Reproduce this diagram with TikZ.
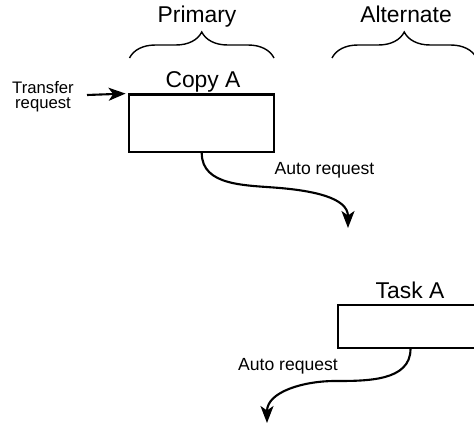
\documentclass[tikz,border=0pt]{standalone}
\usepackage{fontspec}
\setmainfont{Liberation Sans}
\usepackage{tikz}
\usetikzlibrary{arrows.meta,positioning,decorations.pathreplacing}
\tikzset{
  procbox/.style={rectangle, draw=black, line width=1.15pt, fill=white,
                  minimum width=2.9cm, inner sep=0pt},
  hdrlabel/.style={font=\fontsize{13}{15}\selectfont, anchor=base, inner sep=0pt},
  smalllabel/.style={font=\fontsize{10}{12}\selectfont, anchor=base, inner sep=0pt},
  flowarr/.style={-{Stealth[length=3.4mm, width=2.6mm, inset=0.9mm]}, line width=1.2pt},
  bracegrp/.style={decorate, decoration={brace, amplitude=0.52cm}, line width=0.8pt},
}
\begin{document}
\begin{tikzpicture}[x=0.02cm, y=-0.02cm]
  \useasboundingbox (0,0) rectangle (474,426);
  \clip (0,0) rectangle (474,426);
  % group headings
  \node[hdrlabel] (prim) at (197,23) {Primary};
  \node[hdrlabel] (alt)  at (406,23) {Alternate};
  \coordinate (primL) at (129.5,58);
  \coordinate (primR) at (274,58);
  \coordinate (altL)  at (332,58);
  \coordinate (altR)  at (476.5,58);
  \draw[bracegrp] (primL) -- (primR);
  \draw[bracegrp] (altL) -- (altR);
  % copy A
  \node[procbox, minimum height=1.15cm] (copy) at (201.75,123.25) {};
  \node[hdrlabel] (copylbl) at (203,88) {Copy A};
  \node[font=\fontsize{9.5}{8.6}\selectfont, align=center, inner sep=0pt] (xfer) at (43,97) {Transfer\\request};
  \coordinate (xin) at (87,95);
  \draw[flowarr, shorten >=1.5pt] (xin) -- (copy.north west);
  \coordinate (auto1) at (348,228);
  \draw[flowarr] (copy.south) to[out=-90, in=175] (280,188) to[out=-5, in=90] (auto1);
  \node[smalllabel] (autolbl1) at (324.5,174) {Auto request};
  % task A
  \node[procbox, minimum height=0.86cm] (task) at (410.5,326.5) {};
  \node[hdrlabel] (tasklbl) at (410,298) {Task A};
  \coordinate (auto2) at (267,423);
  \draw[flowarr] (task.south) to[out=-90, in=0] (335,381) to[out=180, in=90] (auto2);
  \node[smalllabel] (autolbl2) at (288,370) {Auto request};
\end{tikzpicture}
\end{document}
